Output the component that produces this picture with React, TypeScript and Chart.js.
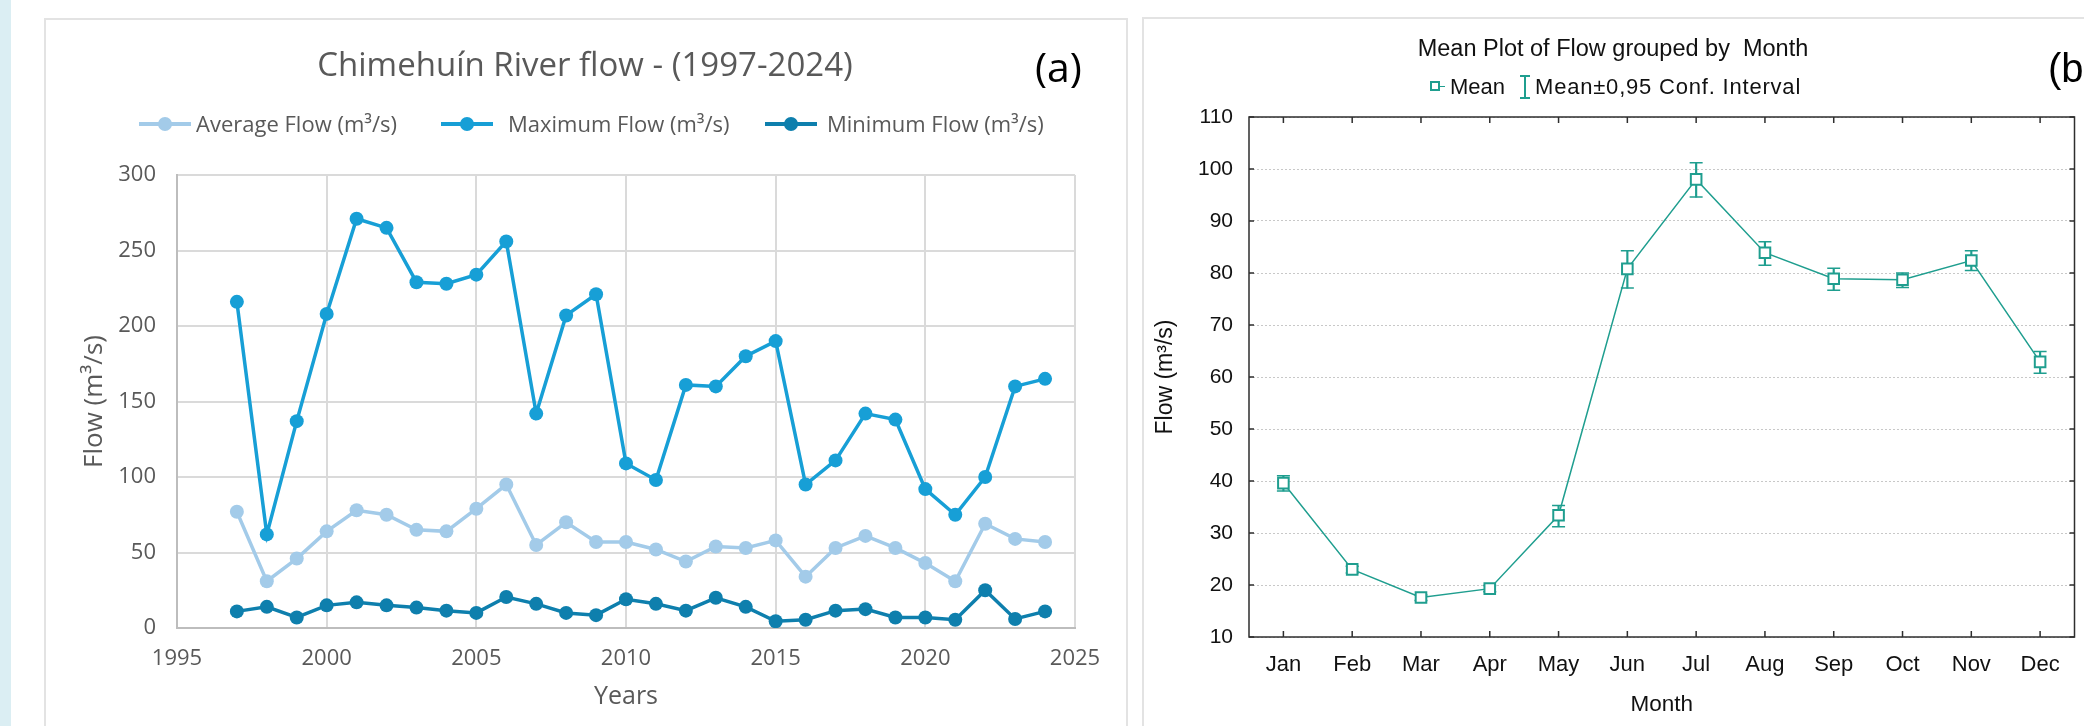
import React, { useEffect, useRef } from "react";
import { Chart, registerables } from "chart.js";

Chart.register(...registerables);

// ---------- Data: panel (a) ----------
const years = [1997, 1998, 1999, 2000, 2001, 2002, 2003, 2004, 2005, 2006, 2007, 2008, 2009, 2010,
  2011, 2012, 2013, 2014, 2015, 2016, 2017, 2018, 2019, 2020, 2021, 2022, 2023, 2024];
const averageFlow = [77, 31, 46, 64, 78, 75, 65, 64, 79, 95, 55, 70, 57, 57, 52, 44, 54, 53, 58, 34, 53, 61, 53, 43, 31, 69, 59, 57];
const maximumFlow = [216, 62, 137, 208, 271, 265, 229, 228, 234, 256, 142, 207, 221, 109, 98, 161, 160, 180, 190, 95, 111, 142, 138, 92, 75, 100, 160, 165];
const minimumFlow = [11, 14, 7, 15, 17, 15, 13.5, 11.5, 10, 20.5, 16, 10, 8.5, 19, 16, 11.5, 20, 14, 4.5, 5.5, 11.5, 12.5, 7, 7, 5.5, 25, 6, 11];
const yearTicksMin = 1995;
const yearTicksMax = 2025;
const yearStep = 5;
const flowMin = 0;
const flowMax = 300;
const flowStep = 50;

// ---------- Data: panel (b) ----------
const months = ["Jan", "Feb", "Mar", "Apr", "May", "Jun", "Jul", "Aug", "Sep", "Oct", "Nov", "Dec"];
const meanFlow = [39.6, 23.0, 17.6, 19.3, 33.4, 80.8, 98.0, 83.9, 78.9, 78.7, 82.4, 62.9];
const ciLower = [38.1, 22.3, 17.0, 18.7, 31.2, 77.1, 94.6, 81.5, 76.7, 77.2, 80.5, 60.7];
const ciUpper = [41.0, 23.6, 18.1, 19.9, 35.3, 84.3, 101.2, 86.0, 80.9, 80.0, 84.3, 64.9];
const monthFlowMin = 10;
const monthFlowMax = 110;
const monthFlowStep = 10;

const AVG = "#a3cbe9";
const MAX = "#179fd6";
const MIN = "#0e7fad";
const TEAL = "#1f9e8f";
const GREY_TEXT = "#595959";
const LEFT_FONT = "'Open Sans', sans-serif";
const RIGHT_FONT = "'Liberation Sans', Arial, sans-serif";

const boxTicksPlugin = {
  id: "boxTicks",
  afterDraw(chart: any) {
    const { ctx, chartArea, scales } = chart;
    const { left, right, top, bottom } = chartArea;
    const x = scales.x;
    const y = scales.y;
    ctx.save();
    ctx.strokeStyle = "#2e2e2e";
    ctx.lineWidth = 1.5;
    ctx.strokeRect(left, top, right - left, bottom - top);
    ctx.beginPath();
    x.ticks.forEach((_: any, i: number) => {
      const px = x.getPixelForTick(i);
      ctx.moveTo(px, bottom);
      ctx.lineTo(px, bottom - 6);
      ctx.moveTo(px, top);
      ctx.lineTo(px, top + 6);
    });
    y.ticks.forEach((_: any, i: number) => {
      const py = y.getPixelForTick(i);
      ctx.moveTo(left, py);
      ctx.lineTo(left + 5, py);
      ctx.moveTo(right, py);
      ctx.lineTo(right - 5, py);
    });
    ctx.stroke();
    ctx.restore();
  },
};

function LeftChart() {
  const ref = useRef<HTMLCanvasElement>(null);
  useEffect(() => {
    if (!ref.current) return;
    const mk = (label: string, values: number[], color: string) => ({
      label,
      data: years.map((yr, i) => ({ x: yr, y: values[i] })),
      borderColor: color,
      backgroundColor: color,
      pointBackgroundColor: color,
      pointBorderColor: color,
      pointRadius: 7,
      pointBorderWidth: 0,
      borderWidth: 3.5,
      tension: 0,
    });
    const chart = new Chart(ref.current, {
      type: "line",
      data: {
        datasets: [
          mk("Average Flow (m³/s)", averageFlow, AVG),
          mk("Maximum Flow (m³/s)", maximumFlow, MAX),
          mk("Minimum Flow (m³/s)", minimumFlow, MIN),
        ],
      },
      options: {
        animation: false,
        responsive: false,
        devicePixelRatio: 1,
        layout: { padding: { left: 60, right: 65, top: 175, bottom: 0 } },
        plugins: { legend: { display: false }, title: { display: false }, tooltip: { enabled: false } },
        scales: {
          x: {
            type: "linear",
            min: yearTicksMin,
            max: yearTicksMax,
            ticks: {
              stepSize: yearStep,
              color: GREY_TEXT,
              font: { family: LEFT_FONT, size: 22 },
              padding: 18,
              callback: (v: any) => String(v),
            },
            grid: { color: "#dadada", lineWidth: 2, drawTicks: false },
            border: { color: "#bdbdbd", width: 2 },
            title: {
              display: true,
              text: "Years",
              color: GREY_TEXT,
              font: { family: LEFT_FONT, size: 25 },
              padding: { top: 0, bottom: 14 },
            },
            afterFit: (s: any) => {
              s.height = 98;
            },
          },
          y: {
            type: "linear",
            min: flowMin,
            max: flowMax,
            ticks: {
              stepSize: flowStep,
              color: GREY_TEXT,
              font: { family: LEFT_FONT, size: 22 },
              padding: 21,
            },
            grid: { color: "#dadada", lineWidth: 2, drawTicks: false },
            border: { color: "#bdbdbd", width: 2 },
            title: {
              display: true,
              text: "Flow (m³/s)",
              color: GREY_TEXT,
              font: { family: LEFT_FONT, size: 26 },
              padding: { top: 19, bottom: 0 },
            },
            afterFit: (s: any) => {
              s.width = 117;
            },
          },
        },
      },
    } as any);
    return () => chart.destroy();
  }, []);
  return (
    <canvas
      ref={ref}
      width={1140}
      height={726}
      style={{ position: "absolute", left: 0, top: 0, width: 1140, height: 726, display: "block" }}
    />
  );
}

function RightChart() {
  const ref = useRef<HTMLCanvasElement>(null);
  useEffect(() => {
    if (!ref.current) return;
    const chart = new Chart(ref.current, {
      type: "bar",
      data: {
        labels: months,
        datasets: [
          {
            type: "line",
            label: "Mean",
            data: meanFlow,
            borderColor: TEAL,
            borderWidth: 1.5,
            pointStyle: "rect",
            pointRadius: 7.5,
            pointBorderWidth: 2,
            pointBackgroundColor: "#ffffff",
            pointBorderColor: TEAL,
            order: 0,
          },
          {
            type: "line",
            label: "Upper",
            data: ciUpper,
            showLine: false,
            pointStyle: "line",
            pointRadius: 6.5,
            pointBorderWidth: 1.5,
            pointBorderColor: TEAL,
            borderColor: TEAL,
            order: 1,
          },
          {
            type: "line",
            label: "Lower",
            data: ciLower,
            showLine: false,
            pointStyle: "line",
            pointRadius: 6.5,
            pointBorderWidth: 1.5,
            pointBorderColor: TEAL,
            borderColor: TEAL,
            order: 1,
          },
          {
            type: "bar",
            label: "Mean±0,95 Conf. Interval",
            data: months.map((_, i) => [ciLower[i], ciUpper[i]]),
            backgroundColor: TEAL,
            barThickness: 1.5,
            order: 2,
          },
        ],
      },
      options: {
        animation: false,
        responsive: false,
        devicePixelRatio: 1,
        layout: { padding: { left: 0, right: 9, top: 117, bottom: 0 } },
        plugins: { legend: { display: false }, title: { display: false }, tooltip: { enabled: false } },
        scales: {
          x: {
            type: "category",
            offset: true,
            ticks: { color: "#111", font: { family: RIGHT_FONT, size: 22 }, padding: 15 },
            grid: { display: false, drawTicks: false },
            border: { display: false },
            title: {
              display: true,
              text: "Month",
              color: "#111",
              font: { family: RIGHT_FONT, size: 22.5 },
              padding: { top: 0, bottom: 8 },
            },
            afterFit: (s: any) => {
              s.height = 89;
            },
          },
          y: {
            type: "linear",
            min: monthFlowMin,
            max: monthFlowMax,
            ticks: { stepSize: monthFlowStep, color: "#111", font: { family: RIGHT_FONT, size: 21 }, padding: 16 },
            grid: { color: "#c8c8c8", lineWidth: 1, drawTicks: false },
            border: { display: false, dash: [2, 2] },
            title: {
              display: true,
              text: "Flow (m³/s)",
              color: "#111",
              font: { family: RIGHT_FONT, size: 23 },
              padding: { top: 12, bottom: 0 },
            },
            afterFit: (s: any) => {
              s.width = 109;
            },
          },
        },
      },
      plugins: [boxTicksPlugin],
    } as any);
    return () => chart.destroy();
  }, []);
  return (
    <canvas
      ref={ref}
      width={944}
      height={726}
      style={{ position: "absolute", left: 1140, top: 0, width: 944, height: 726, display: "block" }}
    />
  );
}

const abs = (extra: React.CSSProperties): React.CSSProperties => ({
  position: "absolute",
  whiteSpace: "pre",
  lineHeight: 1,
  ...extra,
});

function LegendMarker({ x, color }: { x: number; color: string }) {
  return (
    <>
      <div style={abs({ left: x, top: 122, width: 52, height: 4, background: color })} />
      <div style={abs({ left: x + 19, top: 117, width: 14, height: 14, borderRadius: 7, background: color })} />
    </>
  );
}

export default function App() {
  return (
    <div
      style={{
        position: "absolute",
        left: 0,
        top: 0,
        width: 2084,
        height: 726,
        background: "#ffffff",
        overflow: "hidden",
      }}
    >
      <div style={abs({ left: 0, top: 0, width: 11, height: 726, background: "#dbeef3" })} />
      <div
        style={abs({
          left: 44,
          top: 18,
          width: 1084,
          height: 730,
          border: "2px solid #e3e3e3",
          boxSizing: "border-box",
        })}
      />
      <div
        style={abs({
          left: 1142,
          top: 17,
          width: 960,
          height: 730,
          border: "2px solid #e3e3e3",
          boxSizing: "border-box",
        })}
      />
      <LeftChart />
      <RightChart />

      {/* Panel (a) title & legend */}
      <div
        style={abs({
          left: 585,
          top: 63,
          transform: "translate(-50%, -50%)",
          fontFamily: LEFT_FONT,
          fontSize: 33,
          color: GREY_TEXT,
        })}
      >
        Chimehuín River flow - (1997-2024)
      </div>
      <div style={abs({ left: 1035, top: 46, fontFamily: LEFT_FONT, fontSize: 41, color: "#000" })}>(a)</div>

      <LegendMarker x={139} color={AVG} />
      <div style={abs({ left: 196, top: 112, fontFamily: LEFT_FONT, fontSize: 22, color: GREY_TEXT })}>
        Average Flow (m³/s)
      </div>
      <LegendMarker x={441} color={MAX} />
      <div style={abs({ left: 508, top: 112, fontFamily: LEFT_FONT, fontSize: 22, color: GREY_TEXT })}>
        Maximum Flow (m³/s)
      </div>
      <LegendMarker x={765} color={MIN} />
      <div style={abs({ left: 827, top: 112, fontFamily: LEFT_FONT, fontSize: 22, color: GREY_TEXT })}>
        Minimum Flow (m³/s)
      </div>

      {/* Panel (b) title & legend */}
      <div
        style={abs({
          left: 1613,
          top: 49,
          transform: "translate(-50%, -50%)",
          fontFamily: RIGHT_FONT,
          fontSize: 23.5,
          color: "#111",
        })}
      >
        Mean Plot of Flow grouped by  Month
      </div>
      <div style={abs({ left: 2048, top: 48, fontFamily: RIGHT_FONT, fontSize: 40, color: "#000" })}>(b</div>

      {/* Mean legend marker */}
      <div style={abs({ left: 1430, top: 81, width: 10, height: 10, border: "2px solid " + TEAL, boxSizing: "border-box" })} />
      <div style={abs({ left: 1440, top: 85.5, width: 5, height: 1.5, background: TEAL })} />
      <div style={abs({ left: 1450, top: 76, fontFamily: RIGHT_FONT, fontSize: 22, color: "#111" })}>Mean</div>
      {/* CI legend marker */}
      <div style={abs({ left: 1520, top: 75, width: 10, height: 1.5, background: TEAL })} />
      <div style={abs({ left: 1524.3, top: 75, width: 1.5, height: 23, background: TEAL })} />
      <div style={abs({ left: 1520, top: 97, width: 10, height: 1.5, background: TEAL })} />
      <div
        style={abs({
          left: 1535,
          top: 76,
          fontFamily: RIGHT_FONT,
          fontSize: 22,
          letterSpacing: 0.8,
          color: "#111",
        })}
      >
        Mean±0,95 Conf. Interval
      </div>
    </div>
  );
}
